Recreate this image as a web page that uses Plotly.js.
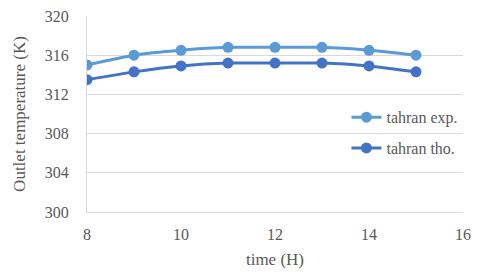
<!DOCTYPE html>
<html><head><meta charset="utf-8">
<script src="https://cdn.plot.ly/plotly-3.0.1.min.js"></script>
<style>html,body{margin:0;padding:0;background:#fff}#chart{width:480px;height:280px}</style>
</head><body><div id="chart"></div>
<script>
const hours = [8, 9, 10, 11, 12, 13, 14, 15];
const tahranExp = [315.0, 316.0, 316.5, 316.8, 316.8, 316.8, 316.5, 316.0];
const tahranTho = [313.5, 314.3, 314.9, 315.2, 315.2, 315.2, 314.9, 314.3];
const seriesNames = ['tahran exp.', 'tahran tho.'];
const font = 'Liberation Serif';
const traces = [
  {x: hours, y: tahranExp, name: seriesNames[0], legendgroup: 'a', mode: 'lines+markers', type: 'scatter',
   line: {color: '#5B9BD5', width: 3, shape: 'spline', smoothing: 0.6}, marker: {color: '#5B9BD5', size: 11}},
  {x: hours, y: tahranTho, name: seriesNames[1], legendgroup: 'b', mode: 'lines+markers', type: 'scatter',
   line: {color: '#4472C4', width: 3, shape: 'spline', smoothing: 0.6}, marker: {color: '#4472C4', size: 11}}
];
const layout = {
  width: 480, height: 280,
  margin: {l: 87, r: 17, t: 16, b: 68},
  paper_bgcolor: '#fff', plot_bgcolor: '#fff',
  font: {family: font, color: '#595959', size: 15},
  showlegend: true,
  legend: {x: 0.69, y: 0.57, xanchor: 'left', yanchor: 'top', bgcolor: 'rgba(0,0,0,0)',
    font: {family: font, size: 16, color: '#595959'}, traceorder: 'grouped', tracegroupgap: 7},
  xaxis: {range: [8, 16], dtick: 2, tick0: 8, showgrid: false, zeroline: false,
    showline: true, linecolor: '#d9d9d9', linewidth: 1, ticks: '', ticklabelstandoff: 8,
    tickfont: {family: font, size: 16, color: '#595959'},
    title: {text: 'time (H)', font: {family: font, size: 17, color: '#595959'}, standoff: 10}},
  yaxis: {range: [300, 320], dtick: 4, tick0: 300, showgrid: true, gridcolor: '#d9d9d9', zeroline: false,
    showline: true, linecolor: '#d9d9d9', linewidth: 1, ticks: '', ticklabelstandoff: 14,
    tickfont: {family: font, size: 16, color: '#595959'},
    title: {text: 'Outlet temperature (K)', font: {family: font, size: 17, color: '#595959'}, standoff: 14}}
};
Plotly.newPlot('chart', traces, layout, {displayModeBar: false, staticPlot: true});
</script></body></html>
